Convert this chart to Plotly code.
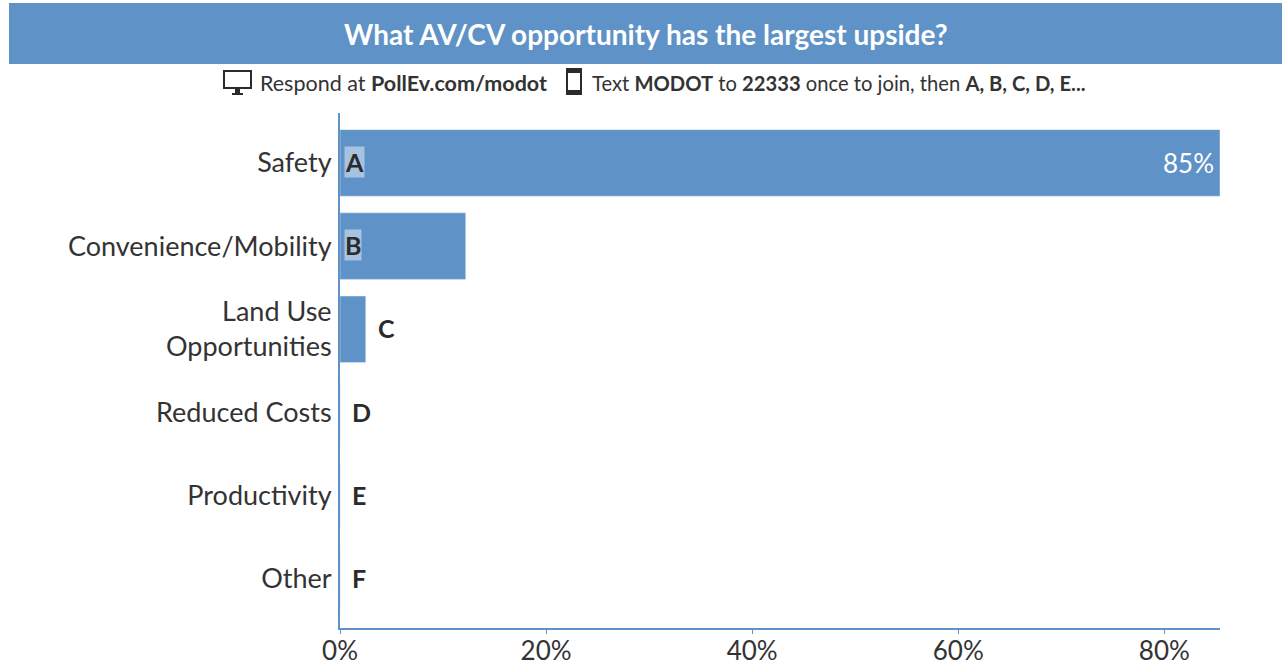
import plotly.graph_objects as go

categories = ["Safety", "Convenience/Mobility", "Land Use<br>Opportunities", "Reduced Costs", "Productivity", "Other"]
letters = ["A", "B", "C", "D", "E", "F"]
values = [85.4, 12.2, 2.5, 0, 0, 0]
ticks = [0, 20, 40, 60, 80]
tick_labels = ["0%", "20%", "40%", "60%", "80%"]
BLUE = "#5f92c6"
DARK = "#333333"
FONT = "Lato, 'Open Sans', sans-serif"
W, H = 1282, 665
x0, x1 = 340, 1220
y0, y1 = 113, 628


def px(x):
    return x / W


def py(y):
    return 1 - y / H


fig = go.Figure(go.Bar(x=values, y=list(range(6)), orientation="h", marker_color=BLUE, width=0.8,
                       hoverinfo="skip"))
for i, (l, v) in enumerate(zip(letters, values)):
    if v > 10:
        fig.add_annotation(x=0, y=i, text=f"<b>{l}</b>", showarrow=False, xanchor="left", xshift=4, yshift=1,
                           bgcolor="rgba(255,255,255,0.45)", borderpad=0,
                           font=dict(size=25, color="#2b2b2b", family=FONT))
    else:
        fig.add_annotation(x=v, y=i, text=f"<b>{l}</b>", showarrow=False, xanchor="left", xshift=10, yshift=1,
                           font=dict(size=25, color="#2b2b2b", family=FONT))
fig.add_annotation(x=values[0], y=0, text=f"{round(values[0])}%", showarrow=False, xanchor="right",
                   xshift=-4, font=dict(size=26, color="white", family=FONT))

fig.add_shape(type="rect", xref="paper", yref="paper", x0=px(9), x1=1, y0=py(64), y1=py(3),
              fillcolor=BLUE, line_width=0, layer="below")
fig.add_annotation(xref="paper", yref="paper", x=px(646), y=py(34), yanchor="middle",
                   text="<b>What AV/CV opportunity has the largest upside?</b>",
                   showarrow=False, font=dict(size=28, color="white", family=FONT))
fig.add_annotation(xref="paper", yref="paper", x=px(258), y=py(83), xanchor="left", yanchor="middle",
                   text="Respond at <b>PollEv.com/modot</b>",
                   showarrow=False, font=dict(size=21.5, color=DARK, family=FONT))
fig.add_annotation(xref="paper", yref="paper", x=px(590), y=py(83), xanchor="left", yanchor="middle",
                   text="Text <b>MODOT</b> to <b>22333</b> once to join, then <b>A, B, C, D, E...</b>",
                   showarrow=False, font=dict(size=20.2, color=DARK, family=FONT))

# Monitor and phone icons of the subtitle
icon = dict(xref="paper", yref="paper", line=dict(color="#2b2b2b", width=2))
fig.add_shape(type="rect", x0=px(224), x1=px(251), y0=py(88), y1=py(71), **icon)
fig.add_shape(type="rect", x0=px(236), x1=px(239), y0=py(93), y1=py(88), fillcolor="#2b2b2b", **icon)
fig.add_shape(type="line", x0=px(232), x1=px(243), y0=py(94), y1=py(94), **icon)
fig.add_shape(type="rect", x0=px(567), x1=px(581), y0=py(94), y1=py(69), **icon)
fig.add_shape(type="rect", x0=px(567), x1=px(581), y0=py(94), y1=py(91), fillcolor="#2b2b2b", **icon)
fig.add_shape(type="rect", x0=px(567), x1=px(581), y0=py(72), y1=py(69), fillcolor="#2b2b2b", **icon)

fig.update_layout(
    width=W, height=H, autosize=False,
    margin=dict(l=0, r=0, t=0, b=0), paper_bgcolor="white", plot_bgcolor="white", showlegend=False,
    xaxis=dict(domain=[px(x0), px(x1)], range=[0, 85.4], tickvals=ticks, ticktext=tick_labels, showgrid=False,
               automargin=False, zeroline=False, showline=True, linecolor=BLUE, linewidth=2, ticks="outside",
               tickcolor=BLUE, ticklen=4, ticklabelstandoff=-5, tickfont=dict(size=26, color=DARK, family=FONT)),
    yaxis=dict(domain=[py(y1), py(y0)], range=[5.59, -0.6], tickvals=list(range(6)), ticktext=categories,
               automargin=False, showgrid=False, zeroline=False, showline=True,
               linecolor=BLUE, linewidth=2, ticks="", ticklabelstandoff=1,
               tickfont=dict(size=27, color=DARK, family=FONT)),
    font=dict(family=FONT),
)
fig.write_html("out.html", config=dict(displayModeBar=False),
               post_script="document.body.style.margin='0';document.documentElement.style.overflow='hidden';")
